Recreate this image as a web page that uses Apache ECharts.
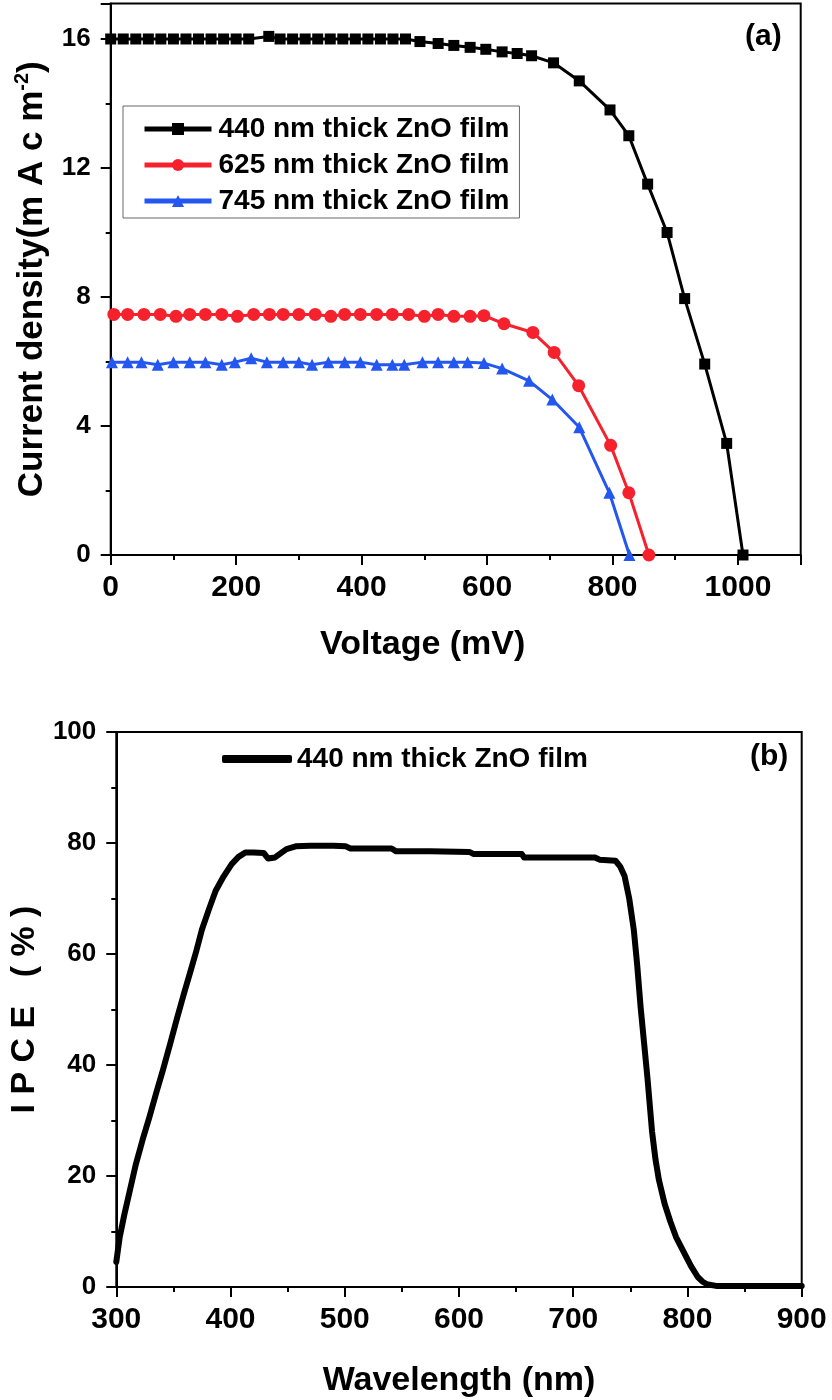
<!DOCTYPE html>
<html>
<head>
<meta charset="utf-8">
<script src="https://cdn.jsdelivr.net/npm/echarts/dist/echarts.min.js"></script>
<style>
  html, body { margin: 0; padding: 0; background: #fff; }
  #chart { width: 832px; height: 1400px; }
</style>
</head>
<body>
<div id="chart"></div>
<script>
// (a) J-V curves
const blackV = [0, 20, 40, 60, 80, 100, 120, 140, 160, 180, 200, 220, 252, 270, 290, 310, 330, 350, 370, 390, 410, 430, 450, 470, 493, 522, 547, 573, 598, 624, 648, 671, 706, 747, 796, 826, 856, 887, 915, 947, 982, 1008];
const blackJ = [16, 16, 16, 16, 16, 16, 16, 16, 16, 16, 16, 16, 16.08, 16, 16, 16, 16, 16, 16, 16, 16, 16, 16, 16, 15.92, 15.86, 15.8, 15.74, 15.68, 15.6, 15.55, 15.48, 15.26, 14.7, 13.8, 13.0, 11.5, 10.0, 7.95, 5.92, 3.46, 0];

const redV = [5, 27, 53, 79, 104, 126, 151, 177, 202, 228, 253, 275, 300, 326, 351, 373, 398, 424, 449, 475, 500, 522, 547, 573, 595, 627, 673, 707, 746, 797, 826, 858];
const redJ = [7.46, 7.46, 7.46, 7.46, 7.4, 7.46, 7.46, 7.46, 7.4, 7.46, 7.46, 7.46, 7.46, 7.46, 7.4, 7.46, 7.46, 7.46, 7.46, 7.46, 7.4, 7.46, 7.4, 7.4, 7.42, 7.17, 6.9, 6.28, 5.25, 3.4, 1.93, 0];

const blueV = [2, 27, 49, 75, 100, 126, 151, 177, 198, 224, 249, 275, 300, 321, 347, 373, 398, 424, 449, 468, 497, 522, 547, 569, 595, 624, 667, 704, 747, 795, 827];
const blueJ = [5.98, 5.98, 5.98, 5.9, 5.98, 5.98, 5.98, 5.9, 5.98, 6.1, 5.98, 5.98, 5.98, 5.9, 5.98, 5.98, 5.98, 5.9, 5.9, 5.9, 5.98, 5.98, 5.98, 5.98, 5.95, 5.78, 5.4, 4.82, 3.96, 1.93, 0];

const seriesNames = ['440 nm thick ZnO film', '625 nm thick ZnO film', '745 nm thick ZnO film'];
const voltTicks = [0, 200, 400, 600, 800, 1000];

// (b) IPCE spectrum
const wavelength = [300, 303, 307, 312, 317, 323, 329, 335, 341, 347, 353, 359, 365, 370, 375, 381, 387, 394, 401, 407, 413, 420, 429, 433, 439, 445, 449, 457, 470, 490, 501, 505, 520, 541, 545, 575, 609, 613, 640, 655, 657, 690, 719, 723, 737, 741, 745, 749, 753, 756, 759, 762, 765, 769, 772, 775, 780, 785, 790, 797, 803, 809, 813, 817, 825, 850, 875, 900];
const ipce = [4.5, 9, 13, 17.5, 22, 26.5, 30.6, 35, 39.2, 43.7, 48.3, 52.7, 56.9, 60.5, 64.4, 68, 71.4, 74, 76.2, 77.5, 78.3, 78.3, 78.2, 77.2, 77.4, 78.3, 78.9, 79.4, 79.5, 79.5, 79.4, 79.0, 79.0, 79.0, 78.5, 78.5, 78.4, 78.0, 78.0, 78.0, 77.4, 77.4, 77.4, 77.0, 76.8, 75.8, 74, 70, 64.4, 58, 50.4, 44, 37.6, 28, 23, 19.3, 15, 11.8, 9, 6.2, 3.8, 1.8, 1.0, 0.5, 0.2, 0.2, 0.2, 0.2];

const FONT = "'Liberation Sans', Arial, sans-serif";

const zip = (xs, ys) => xs.map((x, i) => [x, ys[i]]);

const axisCommon = {
  axisLine: { show: true, onZero: false, lineStyle: { color: '#000', width: 2 } },
  axisTick: { show: true, inside: false, length: 10, lineStyle: { color: '#000', width: 2 } },
  minorTick: { show: true, splitNumber: 2, length: 5, lineStyle: { color: '#000', width: 2 } },
  splitLine: { show: false },
};

const chart = echarts.init(document.getElementById('chart'));

const option = {
  animation: false,
  backgroundColor: '#fff',
  textStyle: { fontFamily: FONT },
  grid: [
    { left: 110.7, right: 31.3, top: 3.5, bottom: 845, show: true, borderColor: '#000', borderWidth: 2 },
    { left: 113, right: 30.3, top: 732, bottom: 113, show: true, borderColor: '#000', borderWidth: 2 },
  ],
  xAxis: [
    Object.assign({}, axisCommon, {
      type: 'value', gridIndex: 0, min: 0, max: 1100, interval: 200,
      axisLabel: { fontFamily: FONT, fontSize: 30, fontWeight: 'bold', color: '#000', margin: 18,
        formatter: v => (voltTicks.includes(v) ? String(v) : '') },
      name: 'Voltage (mV)', nameLocation: 'middle', nameGap: 73,
      nameTextStyle: { fontFamily: FONT, fontSize: 34, fontWeight: 'bold', color: '#000', padding: [0, 66, 0, 0] },
    }),
    Object.assign({}, axisCommon, {
      type: 'value', gridIndex: 1, min: 300, max: 900, interval: 100,
      axisLabel: { fontFamily: FONT, fontSize: 30, fontWeight: 'bold', color: '#000', margin: 18 },
      name: 'Wavelength (nm)', nameLocation: 'middle', nameGap: 77,
      nameTextStyle: { fontFamily: FONT, fontSize: 34, fontWeight: 'bold', color: '#000' },
    }),
  ],
  yAxis: [
    Object.assign({}, axisCommon, {
      type: 'value', gridIndex: 0, min: 0, max: 17.1, interval: 4,
      axisLabel: { fontFamily: FONT, fontSize: 26, fontWeight: 'bold', color: '#000', margin: 20, showMaxLabel: false },
      name: '{a|Current density(m A c m}{s|-2}{a|)}', nameLocation: 'middle', nameGap: 58,
      nameTextStyle: {
        color: '#000',
        rich: {
          a: { fontFamily: FONT, fontSize: 35, fontWeight: 'bold', color: '#000', lineHeight: 40 },
          s: { fontFamily: FONT, fontSize: 20, fontWeight: 'bold', color: '#000', lineHeight: 20, verticalAlign: 'top' },
        },
      },
    }),
    Object.assign({}, axisCommon, {
      type: 'value', gridIndex: 1, min: 0, max: 100, interval: 20,
      axisLabel: { fontFamily: FONT, fontSize: 26, fontWeight: 'bold', color: '#000', margin: 20 },
      name: 'I P C E   ( % )', nameLocation: 'middle', nameGap: 62,
      nameTextStyle: { fontFamily: FONT, fontSize: 34, fontWeight: 'bold', color: '#000' },
    }),
  ],
  legend: [
    {
      data: seriesNames,
      orient: 'vertical', left: 123, top: 106,
      padding: [9, 10, 3, 19], itemGap: 8,
      itemWidth: 67, itemHeight: 15,
      lineStyle: { width: 5 },
      borderColor: '#666', borderWidth: 1, backgroundColor: '#fff',
      textStyle: { fontFamily: FONT, fontSize: 28, fontWeight: 'bold', color: '#000', padding: [0, 0, 0, 2] },
    },
    {
      data: [{ name: 'IPCE', icon: 'roundRect' }],
      formatter: () => '440 nm thick ZnO film',
      left: 220, top: 743, padding: [2, 2, 2, 2],
      itemWidth: 70, itemHeight: 8,
      itemStyle: { color: '#000' },
      textStyle: { fontFamily: FONT, fontSize: 28, fontWeight: 'bold', color: '#000' },
    },
  ],
  series: [
    {
      name: seriesNames[0], type: 'line', xAxisIndex: 0, yAxisIndex: 0,
      data: zip(blackV, blackJ), color: '#000',
      symbol: 'rect', symbolSize: 11,
      lineStyle: { width: 3, color: '#000' }, itemStyle: { color: '#000' },
    },
    {
      name: seriesNames[1], type: 'line', xAxisIndex: 0, yAxisIndex: 0,
      data: zip(redV, redJ), color: '#f5222d',
      symbol: 'circle', symbolSize: 13,
      lineStyle: { width: 3, color: '#f5222d' }, itemStyle: { color: '#f5222d' },
    },
    {
      name: seriesNames[2], type: 'line', xAxisIndex: 0, yAxisIndex: 0,
      data: zip(blueV, blueJ), color: '#2456f0',
      symbol: 'triangle', symbolSize: 12,
      lineStyle: { width: 3, color: '#2456f0' }, itemStyle: { color: '#2456f0' },
    },
    {
      name: 'IPCE', type: 'line', xAxisIndex: 1, yAxisIndex: 1,
      data: zip(wavelength, ipce), color: '#000',
      symbol: 'none', showSymbol: false,
      lineStyle: { width: 6, color: '#000', join: 'round', cap: 'round' },
    },
  ],
  graphic: [
    { type: 'text', left: 745, top: 22, style: { text: '(a)', font: "bold 30px 'Liberation Sans', Arial, sans-serif", fill: '#000' } },
    { type: 'text', left: 750, top: 742, style: { text: '(b)', font: "bold 30px 'Liberation Sans', Arial, sans-serif", fill: '#000' } },
  ],
};

chart.setOption(option);
</script>
</body>
</html>
